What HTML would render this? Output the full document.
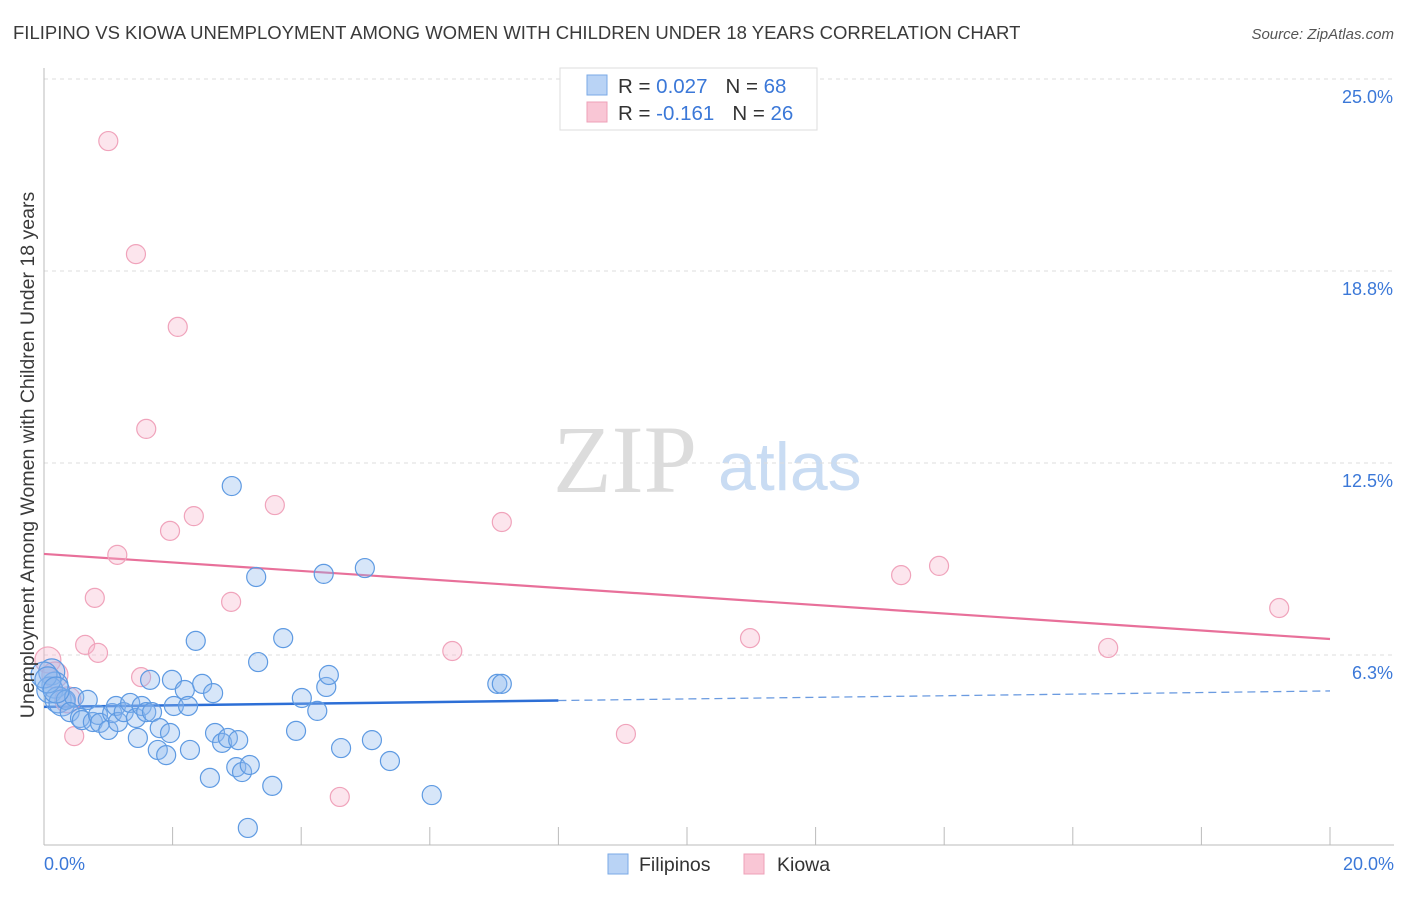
<!DOCTYPE html>
<html><head><meta charset="utf-8"><style>
body{margin:0;background:#fff;font-family:"Liberation Sans",sans-serif;}
</style></head><body>
<svg id="chart" width="1406" height="892" xmlns="http://www.w3.org/2000/svg" style="font-family:'Liberation Sans',sans-serif">
<text x="13" y="39" font-size="18.5" fill="#3a3a3a">FILIPINO VS KIOWA UNEMPLOYMENT AMONG WOMEN WITH CHILDREN UNDER 18 YEARS CORRELATION CHART</text>
<text x="1394" y="39" font-size="15" fill="#555" font-style="italic" text-anchor="end">Source: ZipAtlas.com</text>
<g>
<text x="553" y="492" font-size="96" font-family="'Liberation Serif',serif" fill="#dcdcdc">ZIP</text>
<text x="718" y="490" font-size="68" fill="#c9dcf3">atlas</text>
</g>
<g id="grid"></g>
<g id="axes"></g>
<g id="trends"></g>
<g id="pts"></g>
<text transform="translate(34,455) rotate(-90)" font-size="19.5" fill="#3a3a3a" text-anchor="middle">Unemployment Among Women with Children Under 18 years</text>
<g>
<rect x="560" y="68" width="257" height="62" fill="#fff" stroke="#ddd"/>
<rect x="587" y="75" width="20" height="20" fill="#b9d3f5" stroke="#7aaae6"/>
<rect x="587" y="102" width="20" height="20" fill="#f9c6d5" stroke="#eea0b8"/>
<text x="618" y="93" font-size="20.5" fill="#333">R = <tspan fill="#3b78d8">0.027</tspan><tspan dx="18">N = </tspan><tspan fill="#3b78d8">68</tspan></text>
<text x="618" y="120" font-size="20.5" fill="#333">R = <tspan fill="#3b78d8">-0.161</tspan><tspan dx="18">N = </tspan><tspan fill="#3b78d8">26</tspan></text>
</g>
<g>
<rect x="608" y="854" width="20" height="20" fill="#b9d3f5" stroke="#7aaae6"/>
<text x="639" y="871" font-size="19.5" fill="#333">Filipinos</text>
<rect x="744" y="854" width="20" height="20" fill="#f9c6d5" stroke="#eea0b8"/>
<text x="777" y="871" font-size="19.5" fill="#333">Kiowa</text>
</g>
</svg>
<script>
const yTicks=[6.25,12.5,18.75,25];
const yTickLabels=["6.3%","12.5%","18.8%","25.0%"];
const xTickLabels=["0.0%","20.0%"];
const blueX=[0.12,0.17,0.09,0.22,0.28,0.34,0.47,0.40,0.56,0.68,0.59,0.76,0.84,0.87,1.00,1.06,1.12,1.15,1.24,1.34,1.43,1.52,1.59,1.68,1.65,1.46,1.77,1.80,1.90,1.96,1.99,2.02,2.19,2.24,2.27,2.36,2.46,2.58,2.63,2.66,2.77,2.86,2.99,3.02,2.92,3.08,3.20,3.17,3.30,3.33,3.55,3.72,3.92,4.01,4.25,4.35,4.39,4.43,4.62,4.99,5.10,5.38,6.03,7.05,7.12,0.0,0.06,0.19];
const blueY=[5.70,5.27,5.11,4.79,4.69,4.79,4.88,4.39,4.20,4.79,4.13,4.07,4.30,4.04,3.81,4.36,4.59,4.07,4.39,4.69,4.20,4.59,4.39,4.39,5.44,3.55,3.16,3.87,2.99,3.71,5.44,4.59,5.11,4.59,3.16,6.71,5.31,2.25,5.01,3.71,3.39,3.55,2.60,3.48,11.75,2.44,2.67,0.62,8.79,6.02,1.99,6.80,3.78,4.85,4.43,8.89,5.21,5.60,3.22,9.08,3.48,2.80,1.69,5.31,5.31,5.60,5.44,5.11];
const pinkX=[1.00,1.43,2.08,1.59,2.33,1.96,3.59,1.14,0.79,2.91,0.64,0.84,1.51,0.47,4.60,6.35,7.12,9.05,10.98,13.33,13.92,16.55,19.21,0.06,0.17,0.37];
const pinkY=[22.98,19.30,16.93,13.61,10.77,10.29,11.13,9.51,8.11,7.98,6.58,6.32,5.53,3.61,1.63,6.38,10.58,3.68,6.80,8.85,9.15,6.48,7.78,6.09,5.60,4.79];
const blueTrend=[4.56,5.08];
const pinkTrend=[9.54,6.77];
const NS="http://www.w3.org/2000/svg";
const X0=44,X1=1330,Y0=847,PY=30.72;
const sx=v=>X0+(v/20)*(X1-X0);
const sy=v=>Y0-v*PY;
function mk(tag,attrs,parent){const e=document.createElementNS(NS,tag);for(const k in attrs)e.setAttribute(k,attrs[k]);document.getElementById(parent).appendChild(e);return e;}
yTicks.forEach((t,i)=>{
 const l=mk('line',{x1:X0,x2:1394,y1:sy(t),y2:sy(t),stroke:'#ddd','stroke-dasharray':'4,4'},'grid');
 
 
 const tx=mk('text',{x:1393,y:sy(t)+24,'font-size':18,fill:'#3b78d8','text-anchor':'end'},'grid');
 tx.textContent=yTickLabels[i];
 
 
});
mk('line',{x1:X0,x2:X0,y1:68,y2:845,stroke:'#bbb'},'axes');
mk('line',{x1:X0,x2:1394,y1:845,y2:845,stroke:'#bbb'},'axes');
for(let k=1;k<=10;k++){const x=sx(k*2);const t=mk('line',{x1:x,x2:x,y1:827,y2:845,stroke:'#bbb'},'axes');}
const xl0=mk('text',{x:44,y:870,'font-size':18,fill:'#3b78d8'},'axes');xl0.textContent=xTickLabels[0];


const xl1=mk('text',{x:1394,y:870,'font-size':18,fill:'#3b78d8','text-anchor':'end'},'axes');xl1.textContent=xTickLabels[1];


const bAt=x=>blueTrend[0]+(blueTrend[1]-blueTrend[0])*x/20;
let e=mk('line',{x1:sx(0),y1:sy(bAt(0)),x2:sx(8),y2:sy(bAt(8)),stroke:'#2d6fd6','stroke-width':2.5},'trends');


e=mk('line',{x1:sx(8),y1:sy(bAt(8)),x2:sx(20),y2:sy(bAt(20)),stroke:'#6b9be0','stroke-width':1.3,'stroke-dasharray':'8,5'},'trends');


e=mk('line',{x1:sx(0),y1:sy(pinkTrend[0]),x2:sx(20),y2:sy(pinkTrend[1]),stroke:'#e8709a','stroke-width':2.2},'trends');


pinkX.forEach((x,i)=>{const c=mk('circle',{cx:sx(x),cy:sy(pinkY[i]),r:x<0.4?13:9.5,fill:'rgba(247,180,202,0.35)',stroke:'#f0a3bb','stroke-width':1.2},'pts');
 
 });
blueX.forEach((x,i)=>{const c=mk('circle',{cx:sx(x),cy:sy(blueY[i]),r:x<0.3?13:9.5,fill:'rgba(140,182,238,0.35)',stroke:'#5e9ae2','stroke-width':1.2},'pts');
 
 });
</script>
</body></html>
